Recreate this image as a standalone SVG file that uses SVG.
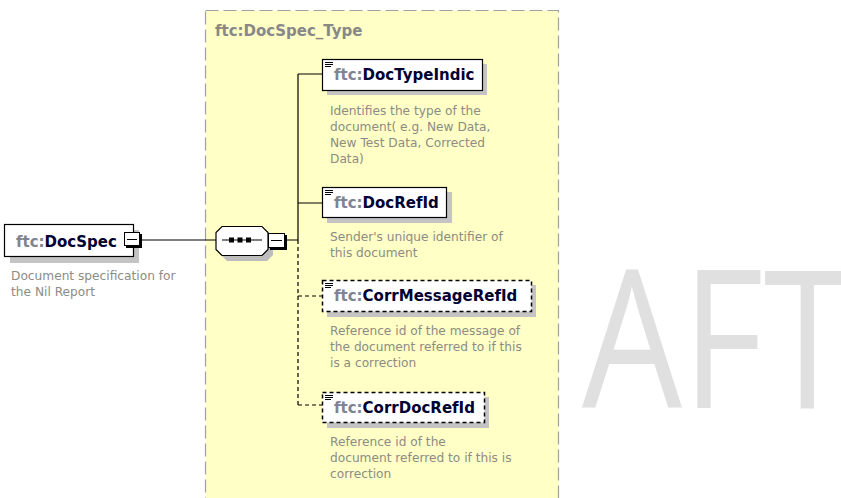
<svg xmlns="http://www.w3.org/2000/svg" width="841" height="498" viewBox="0 0 841 498">
<style>
.name{font-family:"DejaVu Sans",sans-serif;font-size:15px;font-weight:bold;fill:#000033}
.ns{fill:#80848f}
.desc{font-family:"DejaVu Sans",sans-serif;font-size:12.2px;fill:#8c8c84}
.box{fill:#fff;stroke:#000;stroke-width:1.2}
.opt{fill:#fff;stroke:#000;stroke-width:1.5;stroke-dasharray:4 3}
.shadow{fill:#c4c4c4}
.line{stroke:#000;stroke-width:1.2;fill:none}
.dash{stroke:#000;stroke-width:1.2;fill:none;stroke-dasharray:4 3}
.icon{stroke:#000;stroke-width:1}
</style>
<rect width="841" height="498" fill="#fff"/>
<text transform="translate(582,408) scale(0.82,1)" font-family="'Open Sans',sans-serif" font-size="193" fill="#e0e0e0">AFT</text>

<g id="container">
<rect x="205.5" y="10.5" width="353" height="500" fill="#ffffc6" stroke="#a0a0a0" stroke-width="1.2" stroke-dasharray="13 5"/>
<text x="215" y="36" font-family="'DejaVu Sans',sans-serif" font-size="15" font-weight="bold" fill="#888">ftc:DocSpec_Type</text>
</g>

<g id="connectors">
<path class="line" d="M142,240 H216"/>
<path class="line" d="M286,240 H298 M298,74 V240 M298,74 H322 M298,203 H322"/>
<path class="dash" d="M298,240 V405 M298,296 H322 M298,405 H322"/>
</g>

<g id="DocSpec">
<rect class="shadow" x="10" y="230" width="129" height="33"/>
<rect class="box" x="4.5" y="224.5" width="129" height="32"/>
<text class="name" x="16" y="247"><tspan class="ns">ftc:</tspan>DocSpec</text>
<rect x="126" y="234" width="16" height="14" fill="#000"/>
<rect x="124.5" y="232.5" width="15" height="13" fill="#fff" stroke="#000"/>
<path class="icon" d="M127,239.5 H137"/>
<text class="desc" x="11" y="280">Document specification for</text>
<text class="desc" x="11" y="296">the Nil Report</text>
</g>

<g id="sequence">
<path d="M227,231 H267 L273,237 V255 L267,261 H227 L221,255 V237 Z" fill="#bdbdbd"/>
<path d="M222,226.5 H262 L268,232.5 V249.5 L262,255.5 H222 L216,249.5 V232.5 Z" fill="#fff" stroke="#000" stroke-width="1.2"/>
<path class="line" d="M222,240 H262"/>
<rect x="229" y="237.5" width="5" height="5" fill="#000"/>
<rect x="237.5" y="237.5" width="5" height="5" fill="#000"/>
<rect x="246" y="237.5" width="5" height="5" fill="#000"/>
<rect x="270" y="235" width="17" height="15" fill="#000"/>
<rect x="268.5" y="233.5" width="16" height="14" fill="#fff" stroke="#000"/>
<path class="icon" d="M271,240.5 H282"/>
</g>

<g id="DocTypeIndic">
<rect class="shadow" x="327" y="64" width="160" height="31"/>
<rect class="box" x="322.5" y="59.5" width="160" height="31"/>
<path class="icon" d="M325,62.5 H333 M325,64.5 H333 M325,66.5 H331"/>
<text class="name" x="334" y="80"><tspan class="ns">ftc:</tspan>DocTypeIndic</text>
<text class="desc" x="330" y="115">Identifies the type of the</text>
<text class="desc" x="330" y="131">document( e.g. New Data,</text>
<text class="desc" x="330" y="147">New Test Data, Corrected</text>
<text class="desc" x="330" y="163">Data)</text>
</g>

<g id="DocRefId">
<rect class="shadow" x="327" y="192" width="125" height="31"/>
<rect class="box" x="322.5" y="187.5" width="124" height="30"/>
<path class="icon" d="M325,190.5 H333 M325,192.5 H333 M325,194.5 H331"/>
<text class="name" x="334" y="208"><tspan class="ns">ftc:</tspan>DocRefId</text>
<text class="desc" x="330" y="241">Sender's unique identifier of</text>
<text class="desc" x="330" y="257">this document</text>
</g>

<g id="CorrMessageRefId">
<rect class="shadow" x="327" y="285" width="209" height="32"/>
<rect class="opt" x="322.5" y="280.5" width="209" height="31"/>
<path class="icon" d="M325,283.5 H333 M325,285.5 H333 M325,287.5 H331"/>
<text class="name" x="334" y="301"><tspan class="ns">ftc:</tspan>CorrMessageRefId</text>
<text class="desc" x="330" y="335">Reference id of the message of</text>
<text class="desc" x="330" y="351">the document referred to if this</text>
<text class="desc" x="330" y="367">is a correction</text>
</g>

<g id="CorrDocRefId">
<rect class="shadow" x="327" y="397" width="162" height="31"/>
<rect class="opt" x="322.5" y="392.5" width="162" height="30"/>
<path class="icon" d="M325,395.5 H333 M325,397.5 H333 M325,399.5 H331"/>
<text class="name" x="334" y="413"><tspan class="ns">ftc:</tspan>CorrDocRefId</text>
<text class="desc" x="330" y="446">Reference id of the</text>
<text class="desc" x="330" y="462">document referred to if this is</text>
<text class="desc" x="330" y="478">correction</text>
</g>
</svg>
